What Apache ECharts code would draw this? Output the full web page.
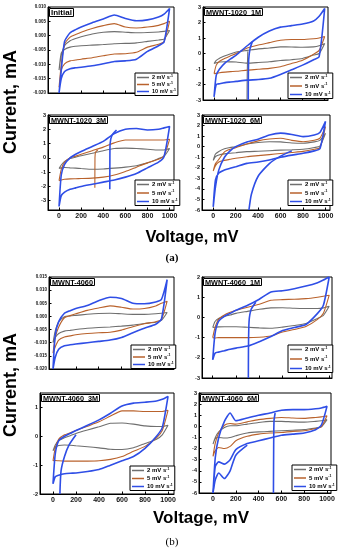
<!DOCTYPE html>
<html><head><meta charset="utf-8">
<script src="https://cdn.jsdelivr.net/npm/echarts@6/dist/echarts.min.js"></script>
<style>html,body{margin:0;padding:0;background:#fff}#c{width:345px;height:550px}</style>
</head><body><div id="c"></div>
<script>
// ---------- DATA ----------
const V = [0, 20, 50, 100, 150, 200, 300, 400, 500, 600, 700, 800, 900, 950, 1000];
const rateNames = ['2 mV s-1', '5 mV s-1', '10 mV s-1'];
const xTicks = [0, 200, 400, 600, 800, 1000];

// Initial
const ini2Up = [-0.012, -0.007, -0.0035, -0.0018, -0.0010, -0.0004, 0.0006, 0.0012, 0.0014, 0.0012, 0.0010, 0.0011, 0.0013, 0.0015, 0.0018];
const ini2Lo = [-0.012, -0.0060, -0.0048, -0.0040, -0.0037, -0.0035, -0.0033, -0.0031, -0.0028, -0.0027, -0.0025, -0.0020, -0.0015, -0.0012, 0.0018];
const ini5Up = [-0.018, -0.010, -0.003, -0.0005, 0.0004, 0.0012, 0.0025, 0.0035, 0.0042, 0.0030, 0.0027, 0.0030, 0.0036, 0.0042, 0.0050];
const ini5Lo = [-0.018, -0.012, -0.0098, -0.0088, -0.0085, -0.0082, -0.0077, -0.0070, -0.0064, -0.0063, -0.0058, -0.0040, -0.0030, -0.0020, 0.0050];
const ini10Up = [-0.020, -0.012, -0.002, 0.0010, 0.0021, 0.0030, 0.0045, 0.0058, 0.0072, 0.0060, 0.0052, 0.0055, 0.0065, 0.0075, 0.0095];
const ini10Lo = [-0.020, -0.0150, -0.0125, -0.0115, -0.0112, -0.0110, -0.0105, -0.0098, -0.0090, -0.0088, -0.0082, -0.0055, -0.0035, -0.0022, 0.0095];

// MWNT-1020_1M
const a1m2Up = [-0.65, -0.45, -0.3, -0.15, -0.02, 0.1, 0.2, 0.3, 0.35, 0.43, 0.42, 0.4, 0.43, 0.5, 0.65];
const a1m2Lo = [-0.65, -0.6, -0.55, -0.53, -0.54, -0.55, -0.62, -0.58, -0.53, -0.45, -0.4, -0.32, -0.1, 0.0, 0.65];
const a1m5Up = [-1.3, -0.75, -0.5, -0.3, -0.15, 0, 0.35, 0.55, 0.7, 0.85, 0.9, 0.9, 0.95, 1.0, 1.1];
const a1m5Lo = [-1.3, -1.28, -1.24, -1.2, -1.17, -1.15, -1.07, -1.02, -0.96, -0.85, -0.65, -0.43, -0.05, 0.2, 1.1];
const a1m10Up = [-2.8, -1.4, -1.0, -0.6, -0.35, -0.1, 0.5, 1.05, 1.45, 1.7, 1.8, 1.9, 2.1, 2.4, 2.9];
const a1m10Lo = [-2.8, -2.0, -1.95, -1.88, -1.84, -1.8, -1.72, -1.68, -1.6, -1.35, -1.05, -0.75, -0.4, -0.2, 2.9];
const a1m2StartV = [298, 300, 305];
const a1m2StartI = [-3, -1.2, 0.15];
const a1m10StartV = [309, 310, 313, 325, 345];
const a1m10StartI = [-3, -1.5, -0.4, 0.3, 0.75];

// MWNT-1020_3M
const a3m2Up = [-0.75, -0.5, -0.25, -0.05, 0.05, 0.15, 0.32, 0.5, 0.65, 0.68, 0.65, 0.6, 0.55, 0.55, 0.65];
const a3m2Lo = [-0.75, -0.7, -0.68, -0.7, -0.72, -0.75, -0.8, -0.78, -0.72, -0.65, -0.55, -0.35, -0.05, 0.1, 0.65];
const a3m5Up = [-1.6, -0.8, -0.3, 0.0, 0.12, 0.25, 0.5, 0.75, 1.05, 1.25, 1.25, 1.25, 1.25, 1.25, 1.3];
const a3m5Lo = [-1.6, -1.55, -1.5, -1.47, -1.46, -1.45, -1.42, -1.35, -1.2, -0.95, -0.65, -0.35, -0.1, 0.15, 1.3];
const a3m10Up = [-3.4, -1.2, -0.45, 0.0, 0.25, 0.45, 0.8, 1.15, 1.7, 2.0, 2.05, 1.95, 2.0, 2.1, 2.2];
const a3m10Lo = [-3.4, -2.65, -2.4, -2.2, -2.1, -2.0, -1.85, -1.7, -1.55, -1.35, -1.1, -0.7, -0.3, 0.1, 2.2];
const a3m5StartV = [324, 325, 330, 350];
const a3m5StartI = [-2.1, 0, 0.4, 0.55];
const a3m10StartV = [459, 460, 462, 480, 520];
const a3m10StartI = [-2.2, 0, 1.0, 1.6, 1.95];

// MWNT-1020_6M
const a6m2Up = [-1.3, -0.7, -0.45, -0.2, -0.08, 0.0, 0.25, 0.4, 0.47, 0.45, 0.35, 0.32, 0.45, 0.6, 1.26];
const a6m2Lo = [-1.3, -0.95, -0.79, -0.68, -0.62, -0.57, -0.47, -0.43, -0.38, -0.33, -0.3, -0.25, -0.08, 0.05, 1.26];
const a6m5Up = [-2.3, -1.6, -1.2, -0.5, -0.25, -0.1, 0.25, 0.55, 0.72, 0.8, 0.6, 0.47, 0.6, 0.8, 1.9];
const a6m5Lo = [-2.3, -1.8, -1.45, -1.3, -1.2, -1.1, -0.95, -0.85, -0.75, -0.65, -0.55, -0.45, -0.25, -0.1, 1.9];
const a6m10Up = [-5.7, -3.8, -2.2, -1.0, -0.4, 0.0, 0.45, 0.7, 1.1, 1.28, 1.15, 0.95, 1.1, 1.35, 2.4];
const a6m10Lo = [-5.7, -3.15, -2.5, -2.2, -2.05, -1.9, -1.58, -1.45, -1.26, -1.0, -0.8, -0.63, -0.4, -0.2, 2.4];
const a6m10StartV = [318, 340, 400, 500, 600, 700];
const a6m10StartI = [-6, -4.5, -2.8, -1.6, -0.9, -0.4];

// MWNT-4060
const b0m2Up = [-0.010, -0.0055, -0.0020, -0.0001, 0.0002, 0.0004, 0.0008, 0.0011, 0.0012, 0.0010, 0.0008, 0.0008, 0.0010, 0.0012, 0.0015];
const b0m2Lo = [-0.010, -0.0080, -0.0065, -0.0056, -0.0053, -0.0050, -0.0045, -0.0042, -0.0040, -0.0037, -0.0033, -0.0027, -0.0022, -0.0015, 0.0015];
const b0m5Up = [-0.014, -0.008, -0.004, -0.0005, 0.0003, 0.0010, 0.0023, 0.0032, 0.0040, 0.0035, 0.0028, 0.0030, 0.0040, 0.0050, 0.0058];
const b0m5Lo = [-0.014, -0.0115, -0.0090, -0.0078, -0.0074, -0.0070, -0.0065, -0.0062, -0.0060, -0.0052, -0.0039, -0.0028, -0.0020, -0.0012, 0.0058];
const b0m10Up = [-0.020, -0.007, -0.002, 0.0012, 0.0022, 0.0030, 0.0042, 0.0060, 0.0073, 0.0068, 0.0050, 0.0048, 0.0055, 0.0065, 0.0140];
const b0m10Lo = [-0.020, -0.0155, -0.0125, -0.0112, -0.0108, -0.0105, -0.0100, -0.0095, -0.0090, -0.0080, -0.0062, -0.0045, -0.0030, -0.0010, 0.0140];

// MWNT-4060_1M
const b1m2Up = [-0.5, -0.2, -0.05, 0.05, 0.12, 0.2, 0.3, 0.4, 0.47, 0.48, 0.45, 0.44, 0.44, 0.47, 0.55];
const b1m2Lo = [-0.5, -0.49, -0.47, -0.46, -0.46, -0.46, -0.49, -0.52, -0.54, -0.48, -0.4, -0.3, -0.05, 0.1, 0.55];
const b1m5Up = [-1.0, -0.5, -0.1, 0.12, 0.25, 0.35, 0.5, 0.65, 0.85, 0.88, 0.9, 0.93, 1.0, 1.05, 1.1];
const b1m5Lo = [-1.0, -1.02, -1.0, -1.0, -1.0, -1.0, -1.0, -0.98, -0.92, -0.72, -0.6, -0.45, -0.1, 0.2, 1.1];
const b1m10Up = [-2.1, -0.8, -0.2, 0.05, 0.2, 0.35, 0.6, 0.9, 1.26, 1.32, 1.42, 1.55, 1.72, 1.85, 2.0];
const b1m10Lo = [-2.1, -1.77, -1.72, -1.65, -1.58, -1.52, -1.42, -1.2, -0.95, -0.65, -0.5, -0.35, 0.2, 0.6, 2.0];
const b1m10StartV = [306, 307, 312, 330, 370];
const b1m10StartI = [-3, -1.5, -0.2, 0.4, 0.75];

// MWNT-4060_3M
const b3m2Up = [-0.5, -0.3, -0.15, -0.05, 0.02, 0.1, 0.22, 0.33, 0.45, 0.46, 0.42, 0.36, 0.34, 0.34, 0.38];
const b3m2Lo = [-0.5, -0.38, -0.32, -0.3, -0.31, -0.33, -0.36, -0.4, -0.45, -0.46, -0.4, -0.25, -0.1, 0.05, 0.38];
const b3m5Up = [-0.85, -0.4, -0.1, 0.05, 0.12, 0.2, 0.35, 0.5, 0.7, 0.88, 0.88, 0.86, 0.86, 0.86, 0.9];
const b3m5Lo = [-0.85, -0.84, -0.85, -0.86, -0.86, -0.86, -0.86, -0.85, -0.8, -0.7, -0.52, -0.35, -0.05, 0.2, 0.9];
const b3m10Up = [-1.65, -0.6, -0.15, 0.0, 0.1, 0.2, 0.38, 0.57, 0.8, 1.05, 1.15, 1.18, 1.22, 1.28, 1.38];
const b3m10Lo = [-1.65, -1.4, -1.35, -1.3, -1.28, -1.27, -1.22, -1.15, -1.0, -0.85, -0.7, -0.42, 0.0, 0.3, 1.38];
const b3m10StartV = [60, 70, 100, 140, 200];
const b3m10StartI = [-2.0, -1.2, -0.7, -0.3, 0.05];

// MWNT-4060_6M
const b6m2Up = [-1.6, -1.0, -0.5, -0.1, 0.05, 0.05, 0.2, 0.35, 0.45, 0.45, 0.4, 0.38, 0.45, 0.5, 0.6];
const b6m2Lo = [-1.6, -1.1, -1.0, -1.05, -1.0, -0.85, -0.6, -0.5, -0.45, -0.4, -0.35, -0.3, -0.15, -0.05, 0.6];
const b6m5Up = [-2.7, -1.5, -0.6, 0.1, 0.25, 0.2, 0.4, 0.6, 0.72, 0.8, 0.75, 0.72, 0.8, 0.85, 0.95];
const b6m5Lo = [-2.7, -2.2, -1.9, -2.0, -1.8, -1.3, -0.9, -0.7, -0.6, -0.55, -0.45, -0.4, -0.2, -0.05, 0.95];
const b6m10Up = [-6, -2.8, -1.0, 0.45, 1.2, 0.5, 0.75, 1.0, 1.2, 1.45, 1.5, 1.5, 1.58, 1.65, 1.8];
const b6m10Lo = [-6, -3.6, -3.2, -3.4, -3.0, -2.1, -1.55, -1.3, -1.05, -0.8, -0.7, -0.6, -0.3, 0.1, 1.8];
const b6m10StartV = [530, 532, 535, 545];
const b6m10StartI = [-6, -2, 0.5, 1.2];
const b6m10OuterV = [0, 20, 50, 100, 150, 200, 300];
const b6m10OuterI = [-6, -4.8, -4.2, -4.7, -4.0, -2.6, -1.7];

const panelTitles = ['Initial', 'MWNT-1020_1M', 'MWNT-1020_3M', 'MWNT-1020_6M', 'MWNT-4060', 'MWNT-4060_1M', 'MWNT-4060_3M', 'MWNT-4060_6M'];

// ---------- LAYOUT / STYLE ----------
const FF = '"Liberation Sans", Arial, sans-serif';
const colors = ['#6f6f6f', '#b9622c', '#2f4ee6'];
const widths = [1.1, 1.1, 1.6];

const panels = [
  {up: [ini2Up, ini5Up, ini10Up], lo: [ini2Lo, ini5Lo, ini10Lo], st: [],
   g: {l: 48, t: 7, w: 126, h: 86}, x: [-100, 1040], y: [-0.02, 0.01], yi: 0.005, dec: 3, xl: false, leg: [135, 73, 0.5, 5.5]},
  {up: [a1m2Up, a1m5Up, a1m10Up], lo: [a1m2Lo, a1m5Lo, a1m10Lo], st: [[0, a1m2StartV, a1m2StartI], [2, a1m10StartV, a1m10StartI]],
   g: {l: 203, t: 7, w: 125, h: 93}, x: [-100, 1030], y: [-3, 3], yi: 1, dec: 0, xl: false, leg: [288, 73, 2, 6]},
  {up: [a3m2Up, a3m5Up, a3m10Up], lo: [a3m2Lo, a3m5Lo, a3m10Lo], st: [[1, a3m5StartV, a3m5StartI], [2, a3m10StartV, a3m10StartI]],
   g: {l: 48, t: 115, w: 126, h: 95}, x: [-100, 1040], y: [-3.65, 3], yv: [-3, -2, -1, 0, 1, 2, 3], dec: 0, xl: true, leg: [135, 180, 2, 6]},
  {up: [a6m2Up, a6m5Up, a6m10Up], lo: [a6m2Lo, a6m5Lo, a6m10Lo], st: [[2, a6m10StartV, a6m10StartI]],
   g: {l: 202, t: 115, w: 128, h: 95}, x: [-100, 1040], y: [-6, 3], yi: 1, dec: 0, xl: true, leg: [288, 180, 2, 6]},
  {up: [b0m2Up, b0m5Up, b0m10Up], lo: [b0m2Lo, b0m5Lo, b0m10Lo], st: [],
   g: {l: 49, t: 277, w: 125, h: 92}, x: [-35, 1060], y: [-0.02, 0.015], yi: 0.005, dec: 3, xl: false, leg: [131, 345, 1, 6]},
  {up: [b1m2Up, b1m5Up, b1m10Up], lo: [b1m2Lo, b1m5Lo, b1m10Lo], st: [[2, b1m10StartV, b1m10StartI]],
   g: {l: 202, t: 277, w: 130, h: 101}, x: [-92, 1024], y: [-3, 2], yi: 1, dec: 0, xl: false, leg: [288, 345, 3, 6]},
  {up: [b3m2Up, b3m5Up, b3m10Up], lo: [b3m2Lo, b3m5Lo, b3m10Lo], st: [[2, b3m10StartV, b3m10StartI]],
   g: {l: 40, t: 393, w: 134, h: 101}, x: [-113, 1052], y: [-2, 1.5], yv: [-2, -1, 0, 1], dec: 0, xl: true, leg: [130, 466, 1.5, 6]},
  {up: [b6m2Up, b6m5Up, b6m10Up], lo: [b6m2Lo, b6m5Lo, b6m10Lo], st: [[2, b6m10StartV, b6m10StartI], [2, b6m10OuterV, b6m10OuterI]],
   g: {l: 199, t: 393, w: 132, h: 100}, x: [-123, 1035], y: [-6, 3], yi: 1, dec: 0, xl: true, leg: [292, 465, 2, 6]}
];

const grid = [], xAxis = [], yAxis = [], series = [], legend = [], title = [];
panels.forEach((p, i) => {
  grid.push({left: p.g.l, top: p.g.t, width: p.g.w, height: p.g.h, show: true, borderColor: '#000', borderWidth: 1, containLabel: false});
  xAxis.push({
    type: 'value', gridIndex: i, min: p.x[0], max: p.x[1],
    axisLine: {show: true, onZero: false, lineStyle: {color: '#000', width: 1}},
    axisTick: {show: true, inside: true, length: 2.5, customValues: xTicks, lineStyle: {color: '#000'}},
    axisLabel: {show: p.xl, customValues: xTicks, fontSize: 7, fontWeight: 'bold', color: '#111', fontFamily: FF, margin: 3,
      formatter: v => String(Math.round(v))},
    splitLine: {show: false}
  });
  const ya = {
    type: 'value', gridIndex: i, min: p.y[0], max: p.y[1],
    axisLine: {show: true, onZero: false, lineStyle: {color: '#000', width: 1}},
    axisTick: {show: true, inside: true, length: 2.5, lineStyle: {color: '#000'}},
    axisLabel: {fontSize: p.dec ? 4.5 : 5.5, fontWeight: 'bold', color: '#111', fontFamily: FF, margin: 2,
      formatter: v => (Math.abs(v) < 1e-9 ? 0 : v).toFixed(p.dec)},
    splitLine: {show: false}
  };
  if (p.yv) { ya.axisTick.customValues = p.yv; ya.axisLabel.customValues = p.yv; }
  else { ya.interval = p.yi; }
  yAxis.push(ya);
  for (let k = 0; k < 3; k++) {
    const up = p.up[k], lo = p.lo[k];
    const pts = V.map((v, j) => [v, up[j]]).concat(V.slice().reverse().map((v, j) => [v, lo[lo.length - 1 - j]]));
    series.push({type: 'line', name: rateNames[k], xAxisIndex: i, yAxisIndex: i, data: pts,
      symbol: 'none', smooth: 0.2, clip: true, z: 2 + k,
      lineStyle: {color: colors[k], width: widths[k]}, itemStyle: {color: colors[k]}});
  }
  p.st.forEach(s => {
    const k = s[0];
    series.push({type: 'line', name: rateNames[k], xAxisIndex: i, yAxisIndex: i,
      data: s[1].map((v, j) => [v, s[2][j]]), symbol: 'none', smooth: 0.2, clip: true, z: 2 + k,
      lineStyle: {color: colors[k], width: widths[k]}, itemStyle: {color: colors[k]}});
  });
  title.push({text: panelTitles[i], left: p.g.l + 1, top: p.g.t + 1, padding: [1, 2, 0, 2],
    borderColor: '#000', borderWidth: 1, backgroundColor: '#fff',
    textStyle: {fontSize: i === 0 ? 8 : 7.3, fontWeight: 'bold', color: '#000', fontFamily: FF}});
  legend.push({
    orient: 'vertical', left: p.leg[0], top: p.leg[1], data: rateNames, selectedMode: false,
    borderColor: '#000', borderWidth: 1, backgroundColor: '#fff', padding: [1, 2, 1, 2],
    itemGap: p.leg[2], itemWidth: 12, itemHeight: 1.5, icon: 'rect',
    formatter: n => n.replace(' s-1', ' s{sup|-1}'),
    textStyle: {fontSize: p.leg[3], fontWeight: 'bold', color: '#000', fontFamily: FF, padding: [0, 0, 0, -2],
      rich: {sup: {fontSize: 3.5, fontWeight: 'bold', fontFamily: FF, color: '#000', verticalAlign: 'top', padding: [0, 0, 3, 0]}}}
  });
});

const graphic = [
  {type: 'text', x: 11, y: 102, rotation: Math.PI / 2, style: {text: 'Current, mA', fontSize: 18, fontWeight: 'bold', fontFamily: FF, fill: '#000', align: 'center', verticalAlign: 'middle'}},
  {type: 'text', x: 11, y: 385, rotation: Math.PI / 2, style: {text: 'Current, mA', fontSize: 18, fontWeight: 'bold', fontFamily: FF, fill: '#000', align: 'center', verticalAlign: 'middle'}},
  {type: 'text', x: 192, y: 237, style: {text: 'Voltage, mV', fontSize: 16.5, fontWeight: 'bold', fontFamily: FF, fill: '#000', align: 'center', verticalAlign: 'middle'}},
  {type: 'text', x: 201, y: 518, style: {text: 'Voltage, mV', fontSize: 17, fontWeight: 'bold', fontFamily: FF, fill: '#000', align: 'center', verticalAlign: 'middle'}},
  {type: 'text', x: 172, y: 258, style: {text: '(a)', fontSize: 11, fontWeight: 'bold', fontFamily: '"Liberation Serif", serif', fill: '#000', align: 'center', verticalAlign: 'middle'}},
  {type: 'text', x: 172, y: 542, style: {text: '(b)', fontSize: 11, fontFamily: '"Liberation Serif", serif', fill: '#000', align: 'center', verticalAlign: 'middle'}}
];

const chart = echarts.init(document.getElementById('c'), null, {renderer: 'canvas'});
chart.setOption({animation: false, backgroundColor: '#fff', grid, xAxis, yAxis, series, legend, title, graphic});
</script>
</body></html>
